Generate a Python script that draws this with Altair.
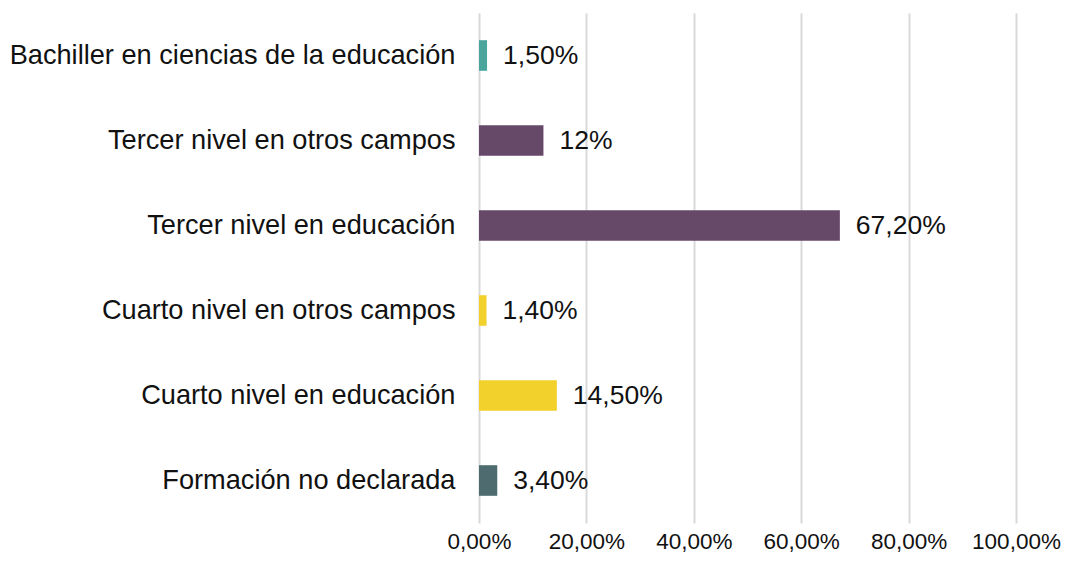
import altair as alt
import pandas as pd

categories = [
    "Bachiller en ciencias de la educación",
    "Tercer nivel en otros campos",
    "Tercer nivel en educación",
    "Cuarto nivel en otros campos",
    "Cuarto nivel en educación",
    "Formación no declarada",
]
values = [1.5, 12.0, 67.2, 1.4, 14.5, 3.4]
labels = ["1,50%", "12%", "67,20%", "1,40%", "14,50%", "3,40%"]
colors = ["#4aa59d", "#664868", "#664868", "#f2d12c", "#f2d12c", "#4e6b70"]
tick_values = [0, 20, 40, 60, 80, 100]

df = pd.DataFrame({"cat": categories, "val": values, "lab": labels, "col": colors})

FONT = "Liberation Sans"

base = alt.Chart(df).encode(
    y=alt.Y(
        "cat:N",
        sort=categories,
        title=None,
        scale=alt.Scale(paddingInner=0.64, paddingOuter=0.32),
        axis=alt.Axis(
            domain=False,
            ticks=False,
            labelFont=FONT,
            labelFontSize=27.2,
            labelColor="#111111",
            labelPadding=24,
            labelLimit=520,
        ),
    ),
)

bars = base.mark_bar().encode(
    x=alt.X(
        "val:Q",
        title=None,
        scale=alt.Scale(domain=[0, 100], nice=False),
        axis=alt.Axis(
            values=tick_values,
            domain=False,
            ticks=False,
            grid=True,
            gridColor="#d9d9d9",
            gridWidth=2,
            labelFont=FONT,
            labelFontSize=22.5,
            labelColor="#111111",
            labelPadding=7,
            labelExpr="replace(format(datum.value, '.2f'), '.', ',') + '%'",
            labelFlush=False,
        ),
    ),
    color=alt.Color("col:N", scale=None, legend=None),
)

text = base.mark_text(
    align="left", baseline="middle", dx=16, font=FONT, fontSize=26.5, color="#111111"
).encode(x="val:Q", text="lab:N")

chart = (
    alt.layer(bars, text)
    .properties(
        width=537,
        height=510,
        autosize=alt.AutoSizeParams(type="none"),
        padding={"left": 471, "top": 5, "right": 45, "bottom": 32},
    )
    .configure_view(stroke=None)
)

chart.save("out.html", embed_options={"renderer": "svg", "actions": False})
